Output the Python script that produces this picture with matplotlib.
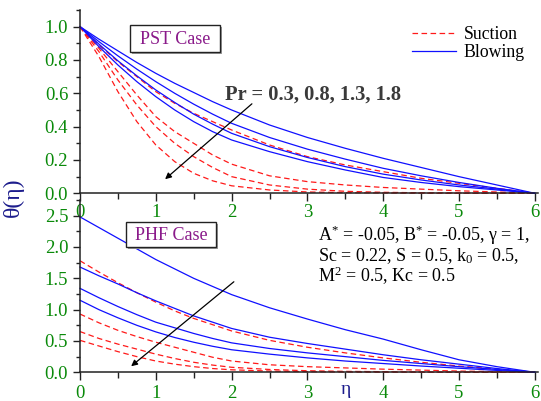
import matplotlib
matplotlib.use("Agg")
import matplotlib.pyplot as plt
from matplotlib.patches import Rectangle, FancyArrowPatch
from matplotlib.ticker import MultipleLocator

plt.rcParams['font.family'] = ['Liberation Serif', 'DejaVu Serif']
plt.rcParams['mathtext.fontset'] = 'custom'
plt.rcParams['mathtext.rm'] = 'Liberation Serif'
plt.rcParams['mathtext.it'] = 'Liberation Serif:italic'
plt.rcParams['lines.scale_dashes'] = False

# ---------------- data ----------------
eta = [0, 0.25, 0.5, 0.75, 1, 1.25, 1.5, 1.75, 2, 2.5, 3, 3.5, 4, 4.5, 5, 5.5, 6]
pr_values = [0.3, 0.8, 1.3, 1.8]

# PST case (top panel)
pst_blowing = [
    [1, 0.925, 0.855, 0.785, 0.72, 0.66, 0.605, 0.55, 0.50, 0.41, 0.335, 0.27, 0.21, 0.155, 0.10, 0.05, 0],
    [1, 0.91, 0.825, 0.745, 0.67, 0.60, 0.535, 0.475, 0.42, 0.335, 0.265, 0.205, 0.15, 0.105, 0.065, 0.03, 0],
    [1, 0.895, 0.795, 0.705, 0.62, 0.545, 0.475, 0.415, 0.36, 0.28, 0.215, 0.16, 0.115, 0.08, 0.05, 0.025, 0],
    [1, 0.88, 0.77, 0.67, 0.58, 0.50, 0.43, 0.37, 0.32, 0.25, 0.19, 0.14, 0.095, 0.065, 0.04, 0.02, 0],
]
pst_suction = [
    [1, 0.89, 0.79, 0.70, 0.61, 0.54, 0.48, 0.43, 0.38, 0.29, 0.22, 0.17, 0.13, 0.09, 0.06, 0.03, 0],
    [1, 0.87, 0.73, 0.59, 0.46, 0.37, 0.30, 0.23, 0.175, 0.105, 0.07, 0.05, 0.035, 0.025, 0.015, 0.008, 0],
    [1, 0.85, 0.68, 0.53, 0.40, 0.30, 0.22, 0.155, 0.10, 0.05, 0.025, 0.012, 0.006, 0.003, 0.002, 0.001, 0],
    [1, 0.82, 0.61, 0.43, 0.29, 0.19, 0.12, 0.075, 0.045, 0.02, 0.008, 0.004, 0.002, 0.001, 0, 0, 0],
]

# PHF case (bottom panel)
phf_blowing = [
    [2.48, 2.31, 2.14, 1.97, 1.80, 1.65, 1.50, 1.37, 1.24, 1.03, 0.85, 0.68, 0.53, 0.36, 0.20, 0.09, 0],
    [1.68, 1.54, 1.41, 1.27, 1.14, 1.02, 0.90, 0.80, 0.70, 0.56, 0.46, 0.37, 0.28, 0.20, 0.13, 0.06, 0],
    [1.34, 1.19, 1.05, 0.92, 0.80, 0.71, 0.62, 0.54, 0.47, 0.38, 0.31, 0.25, 0.19, 0.14, 0.09, 0.045, 0],
    [1.15, 1.00, 0.87, 0.75, 0.645, 0.555, 0.48, 0.415, 0.36, 0.29, 0.23, 0.18, 0.14, 0.10, 0.065, 0.03, 0],
]
phf_suction = [
    [1.78, 1.60, 1.43, 1.27, 1.12, 0.98, 0.86, 0.76, 0.66, 0.51, 0.40, 0.31, 0.23, 0.16, 0.10, 0.05, 0],
    [0.93, 0.79, 0.67, 0.57, 0.48, 0.40, 0.32, 0.24, 0.18, 0.12, 0.09, 0.07, 0.05, 0.035, 0.02, 0.01, 0],
    [0.65, 0.54, 0.45, 0.37, 0.29, 0.22, 0.16, 0.115, 0.08, 0.045, 0.025, 0.015, 0.01, 0.005, 0.003, 0.001, 0],
    [0.51, 0.42, 0.33, 0.25, 0.18, 0.13, 0.09, 0.06, 0.04, 0.02, 0.01, 0.005, 0.003, 0.002, 0.001, 0, 0],
]

x_ticks = [0, 1, 2, 3, 4, 5, 6]

# ---------------- figure ----------------
W, H = 541, 401
fig = plt.figure(figsize=(W / 100, H / 100), dpi=100)

def fx(px):
    return px / W

def fy(py):
    return 1 - py / H

GREEN = '#0a8a0a'
NAVY = '#1c1c8c'
TICKFS = 13.5
XMAX = 6.04
X0, UNIT = 80, 75.8
axw = XMAX * UNIT

ax1 = fig.add_axes([fx(X0), fy(193.3), axw / W, (193.3 - 10) / H])
ax2 = fig.add_axes([fx(X0), fy(372.3), axw / W, (372.3 - 200) / H])

for ax in (ax1, ax2):
    ax.patch.set_alpha(0)
    for s in ('top', 'right'):
        ax.spines[s].set_visible(False)
    for s in ('left', 'bottom'):
        ax.spines[s].set_linewidth(1.1)
        ax.spines[s].set_color('#222222')
    ax.set_xlim(0, XMAX)
    ax.set_xticks(x_ticks)
    ax.xaxis.set_minor_locator(MultipleLocator(0.5))
    ax.tick_params(which='major', direction='out', length=5, width=1.0, color='#222222',
                   labelsize=TICKFS, labelcolor=GREEN, pad=3.5)
    ax.tick_params(which='minor', direction='out', length=3, width=1.0, color='#222222')
    ax.tick_params(axis='x', which='major', length=6, pad=3)
    ax.tick_params(axis='x', which='minor', length=4)

ax1.tick_params(axis='x', which='major', pad=1.5)

ax1.set_ylim(0, 1.1)
ax1.set_yticks([0, 0.2, 0.4, 0.6, 0.8, 1.0])
ax1.yaxis.set_minor_locator(MultipleLocator(0.1))
ax1.set_yticklabels(['0.0', '0.2', '0.4', '0.6', '0.8', '1.0'])

ax2.set_ylim(0, 2.75)
ax2.set_yticks([0, 0.5, 1.0, 1.5, 2.0, 2.5])
ax2.yaxis.set_minor_locator(MultipleLocator(0.25))
ax2.set_yticklabels(['0.0', '0.5', '1.0', '1.5', '2.0', '2.5'])

LW = 0.9
DASH = (4, 2.5)
for i in range(len(pr_values)):
    ax1.plot(eta, pst_suction[i], color='#ff1a1a', lw=LW, dashes=DASH,
             label='Suction' if i == 0 else None, clip_on=False)
    ax1.plot(eta, pst_blowing[i], color='#1010ff', lw=LW,
             label='Blowing' if i == 0 else None, clip_on=False)
    ax2.plot(eta, phf_suction[i], color='#ff1a1a', lw=LW, dashes=DASH, clip_on=False)
    ax2.plot(eta, phf_blowing[i], color='#1010ff', lw=LW, clip_on=False)

leg = ax1.legend(loc='upper left', bbox_to_anchor=(fx(412), fy(26)),
                 bbox_transform=fig.transFigure, frameon=False, fontsize=12.8,
                 handlelength=2.5, handletextpad=0.4, labelspacing=0.05,
                 borderpad=0, borderaxespad=0)

# axis labels
fig.text(fx(13), fy(197), 'θ(η)', rotation=90, ha='center', va='center',
         fontsize=17, color=NAVY)
fig.text(fx(346), fy(389), 'η', ha='center', va='center', fontsize=14, color=NAVY)

# case boxes
def case_box(x0, y0, x1, y1, label):
    fig.add_artist(Rectangle((fx(x0 + 2), fy(y1 + 2)), (x1 - x0) / W, (y1 - y0) / H,
                             transform=fig.transFigure, facecolor='#9a9a9a',
                             edgecolor='none', zorder=5))
    fig.add_artist(Rectangle((fx(x0), fy(y1)), (x1 - x0) / W, (y1 - y0) / H,
                             transform=fig.transFigure, facecolor='white',
                             edgecolor='#222222', lw=1.0, zorder=6))
    fig.text(fx((x0 + x1) / 2), fy((y0 + y1) / 2 + 1), label, ha='center', va='center',
             fontsize=13, color='#8a1a8a', zorder=7)

case_box(130, 25, 220, 52, 'PST Case')
case_box(126, 222, 216, 247, 'PHF Case')

# Pr annotation
fig.text(fx(225), fy(95), 'Pr = ' + ', '.join(str(p) for p in pr_values),
         ha='left', va='center', fontsize=14.8, fontweight='bold', color='#3a3a3a')

def arrow(p0, p1):
    fig.add_artist(FancyArrowPatch((fx(p0[0]), fy(p0[1])), (fx(p1[0]), fy(p1[1])),
                                   transform=fig.transFigure, arrowstyle='-|>',
                                   mutation_scale=9, lw=0.9, color='black', zorder=8))

arrow((254, 102), (163, 181))
arrow((236, 280), (129, 368))

# parameter text (one multi-line block)
params = ['A$^{*}$ = -0.05, B$^{*}$ = -0.05, γ = 1,',
          'Sc = 0.22, S = 0.5, k$_{0}$ = 0.5,',
          'M$^{2}$ = 0.5, Kc = 0.5']
fig.text(fx(318), fy(255), '\n'.join(params), ha='left', va='center', ma='left',
         fontsize=13, color='black', linespacing=0.93)

fig.savefig('out.png', dpi=100)
